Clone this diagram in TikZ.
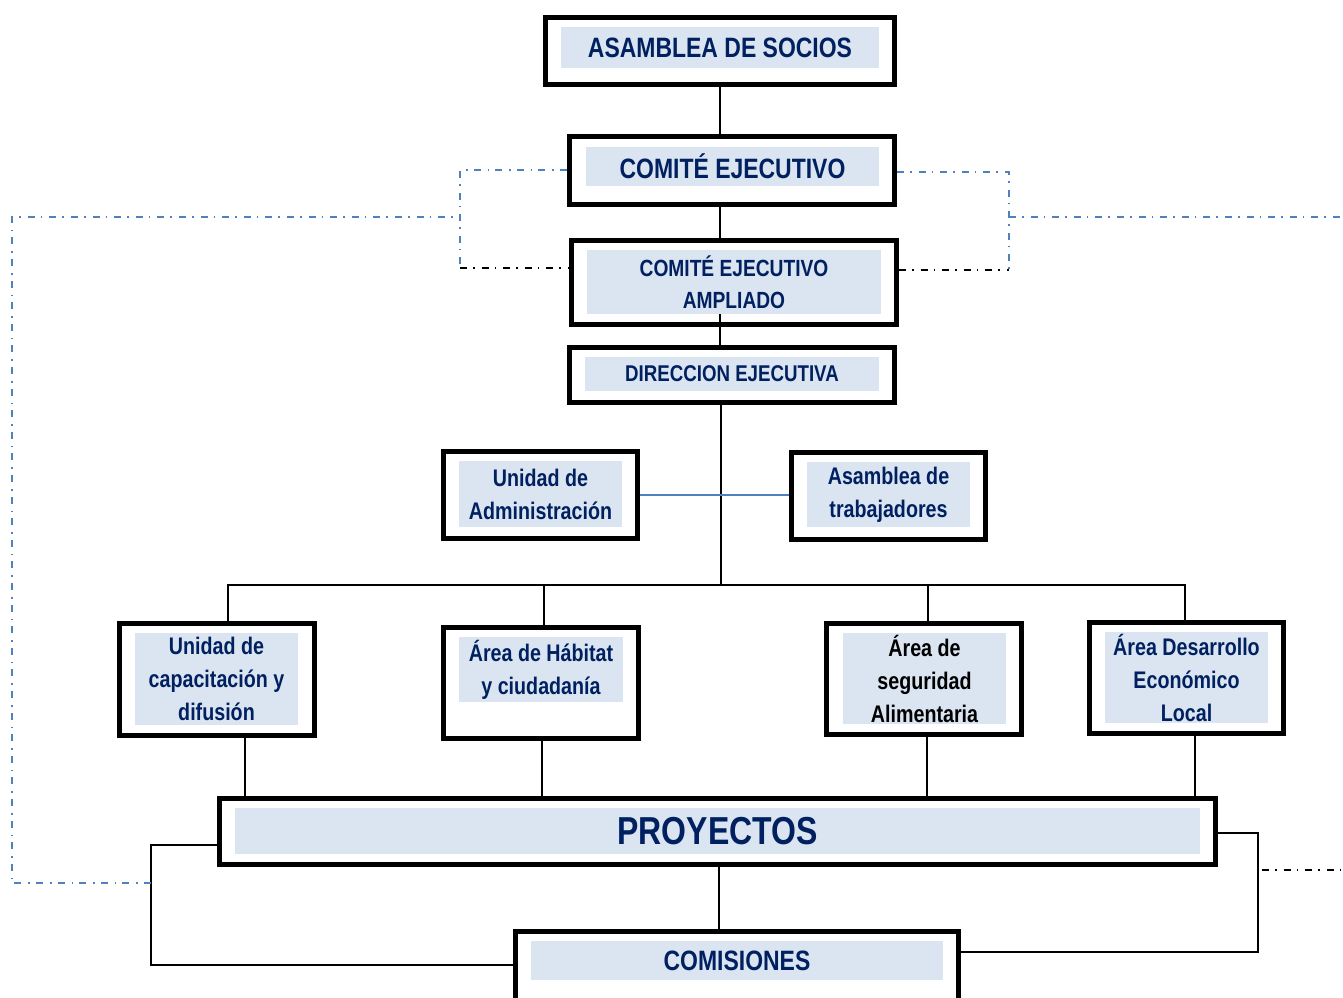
\documentclass[tikz,border=0pt]{standalone}
\usepackage{fontspec}
\setmainfont{Liberation Sans}[FakeStretch=0.82]
\definecolor{marino}{RGB}{0,32,96}
\definecolor{celeste}{RGB}{219,229,241}
\definecolor{azulL}{RGB}{79,129,189}
\begin{document}
\begin{tikzpicture}[x=0.5pt,y=-0.5pt]
\tikzset{marco/.style={draw, line width=2.5pt, inner sep=0pt},
  rotulo/.style={fill=celeste, text=marino, align=center, inner sep=0pt, font=\bfseries\fontsize{12}{16.5}\selectfont},
  linea/.style={line width=1pt},
  rayado/.style={line width=0.9pt, dash pattern=on 3.5pt off 3pt on 0.8pt off 3.5pt}}
\useasboundingbox (0,0) rectangle (1343,997);
% cajas
\node[marco, minimum width=174.5pt, minimum height=33.5pt] (AS) at (720,51) {};
\node[rotulo, minimum width=159pt, minimum height=20.5pt, font=\bfseries\fontsize{14}{16}\selectfont] (tAS) at (720,47.5) {ASAMBLEA DE SOCIOS};
\node[marco, minimum width=162.5pt, minimum height=34pt] (CE) at (732,170.5) {};
\node[rotulo, minimum width=146.5pt, minimum height=19.5pt, font=\bfseries\fontsize{14}{16}\selectfont] (tCE) at (732.5,166.5) {COMITÉ EJECUTIVO};
\node[marco, minimum width=162.5pt, minimum height=42pt] (CA) at (734,282.5) {};
\node[rotulo, minimum width=147pt, minimum height=32pt, font=\bfseries\fontsize{11.7}{16}\selectfont] (tCA) at (734,282) {COMITÉ EJECUTIVO\\AMPLIADO};
\node[marco, minimum width=162.5pt, minimum height=27.5pt] (DE) at (732,375) {};
\node[rotulo, minimum width=147pt, minimum height=17pt, font=\bfseries\fontsize{11.4}{14}\selectfont] (tDE) at (732,374) {DIRECCION EJECUTIVA};
\node[marco, minimum width=97pt, minimum height=43.5pt] (UA) at (540.5,495) {};
\node[rotulo, minimum width=81.5pt, minimum height=33pt] (tUA) at (540.5,494) {Unidad de\\Administración};
\node[marco, minimum width=97pt, minimum height=43.5pt] (AT) at (888.5,496) {};
\node[rotulo, minimum width=81.5pt, minimum height=32.5pt] (tAT) at (888.5,494.5) {Asamblea de\\trabajadores};
\node[marco, minimum width=97.5pt, minimum height=56pt] (UC) at (217,679.5) {};
\node[rotulo, minimum width=81.5pt, minimum height=46pt] (tUC) at (216.5,679) {Unidad de\\capacitación y\\difusión};
\node[marco, minimum width=97.5pt, minimum height=55.5pt] (AH) at (541,683) {};
\node[rotulo, minimum width=82pt, minimum height=32.5pt] (tAH) at (541,669.5) {Área de Hábitat\\y ciudadanía};
\node[marco, minimum width=97.5pt, minimum height=55.5pt] (SA) at (924,679) {};
\node[rotulo, minimum width=81.5pt, minimum height=45.5pt, text=black] (tSA) at (924.5,678.5) {Área de\\seguridad\\Alimentaria};
\node[marco, minimum width=97pt, minimum height=55.5pt] (DL) at (1186.5,678) {};
\node[rotulo, minimum width=81.5pt, minimum height=45.5pt] (tDL) at (1186.5,677.5) {Área Desarrollo\\Económico\\Local};
\node[marco, minimum width=498pt, minimum height=33pt] (PR) at (717.5,831.5) {};
\node[rotulo, minimum width=482.5pt, minimum height=23pt, font=\bfseries\fontsize{19.5}{22}\selectfont] (tPR) at (717.5,831) {PROYECTOS};
\node[marco, minimum width=221.5pt, minimum height=39.25pt] (CO) at (737,970.75) {};
\node[rotulo, minimum width=206pt, minimum height=19.5pt, font=\bfseries\fontsize{14}{16}\selectfont] (tCO) at (737,960.5) {COMISIONES};
% lineas de mando
\draw[linea] (AS) -- (AS |- CE.north);
\draw[linea] (AS |- CE.south) -- (AS |- CA.north);
\draw[linea] (AS |- tCA.south) -- (AS |- DE.north);
\coordinate (B0) at (721,585);
\coordinate (B1) at (228,585);
\coordinate (B2) at (544,585);
\coordinate (B3) at (928,585);
\coordinate (B4) at (1185,585);
\draw[linea] (B0 |- DE.south) -- (B0);
\draw[azulL, line width=0.8pt] (UA.east) -- (UA.east -| AT.west);
\draw[linea] (B1 |- UC.north) -- (B1) -- (B4) -- (B4 |- DL.north);
\draw[linea] (B2) -- (B2 |- AH.north);
\draw[linea] (B3) -- (B3 |- SA.north);
\draw[linea] (245,0 |- UC.south) -- (245,0 |- PR.north);
\draw[linea] (542,0 |- AH.south) -- (542,0 |- PR.north);
\draw[linea] (927,0 |- SA.south) -- (927,0 |- PR.north);
\draw[linea] (1195,0 |- DL.south) -- (1195,0 |- PR.north);
\draw[linea] (719,0 |- PR.south) -- (719,0 |- CO.north);
\coordinate (L1) at (151,845);
\coordinate (L2) at (151,965);
\draw[linea] (PR.west |- L1) -- (L1) -- (L2) -- (CO.west |- L2);
\coordinate (R1) at (1258,833);
\coordinate (R2) at (1258,952);
\draw[linea] (PR.east |- R1) -- (R1) -- (R2) -- (CO.east |- R2);
% lineas punteadas
\coordinate (Q1) at (151,883);
\coordinate (Q2) at (12,883);
\coordinate (Q3) at (12,217);
\coordinate (Q4) at (460,217);
\coordinate (Q5) at (460,170);
\coordinate (Q6) at (460,268);
\draw[rayado, azulL] (Q1) -- (Q2) -- (Q3) -- (Q4);
\draw[rayado, azulL] (CE.west |- Q5) -- (Q5) -- (Q6);
\draw[rayado] (Q6) -- (CA.west |- Q6);
\coordinate (P4) at (1009,217);
\coordinate (P5) at (1009,172);
\coordinate (P6) at (1009,270);
\coordinate (P7) at (1343,217);
\draw[rayado, azulL] (CE.east |- P5) -- (P5) -- (P6);
\draw[rayado] (CA.east |- P6) -- (P6);
\draw[rayado, azulL] (P4) -- (P7);
\coordinate (P8) at (1262,870);
\coordinate (P9) at (1343,870);
\draw[rayado] (P8) -- (P9);
\end{tikzpicture}
\end{document}
